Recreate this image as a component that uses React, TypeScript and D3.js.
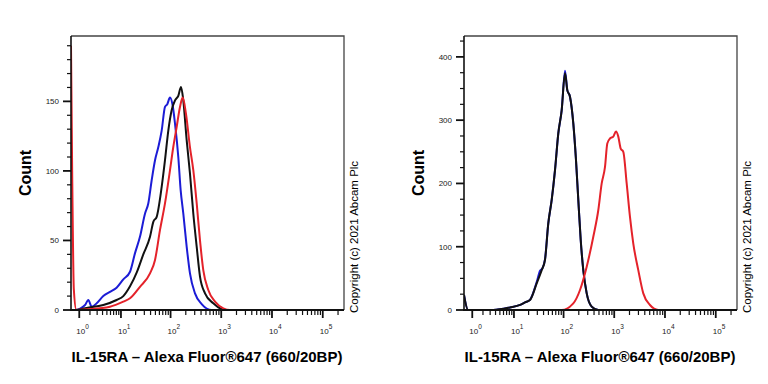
import React from "react";
import * as d3 from "d3";

// intensity (x) / count pairs
const leftBlue: [number, number][] = [
  [0.5, 0], [0.72, 0], [1.48, 3.6], [1.81, 7.2], [2.21, 2.4], [2.93, 4.8], [4.16, 10],
  [5.85, 13], [8.1, 16], [11.2, 22], [15.4, 27.5], [19.4, 40.7], [24.5, 52.6], [31, 69.4],
  [36, 76.6], [42.1, 93.3], [49.1, 107.7], [57, 117], [66.6, 129], [77.5, 146], [86.1, 148],
  [97.4, 152.7], [110, 147], [122.4, 134], [142.2, 110], [158.5, 86], [178.5, 69.4],
  [208.4, 45.4], [242, 26.3], [304, 12], [412, 4.3], [649, 0], [262144, 0],
];
const leftBlack: [number, number][] = [
  [0.5, 0], [0.72, 0], [1.64, 1.5], [4.16, 3.6], [8.1, 7.2], [11.2, 10], [15.4, 17],
  [21.1, 27], [28.6, 40], [39, 52.6], [45.4, 63.4], [53, 67], [66.6, 88.5], [77.5, 107.7],
  [90.2, 129], [105, 143.6], [122.4, 150.7], [142.2, 154], [161, 160.3], [178.5, 150.7],
  [208.4, 122], [242, 98], [281.4, 69.4], [328.6, 45.4], [381.4, 24], [479, 12], [698, 4.8],
  [1186, 0], [262144, 0],
];
const leftRed: [number, number][] = [
  [0.5, 190], [0.56, 100], [0.65, 15], [0.8, 0], [1.64, 0.5], [5.85, 2.4], [11.2, 6],
  [15.4, 8.4], [24.5, 16.7], [39, 26.3], [49.1, 36], [61.6, 57.4], [77.5, 76.6], [97.4, 100.5],
  [113, 117], [132, 131.6], [153.5, 146], [173.8, 152.7], [201.8, 141], [242, 117],
  [281.4, 100.5], [328.6, 76.6], [381.4, 50], [443, 28.7], [556, 14.4], [754, 6], [1099, 1.2],
  [1489, 0], [262144, 0],
];

const rightBlue: [number, number][] = [
  [0.5, 23.7], [0.72, 0], [3.55, 0], [8.26, 4], [13.4, 8], [16.9, 12], [21.3, 16], [29.1, 44],
  [34, 62], [38, 66], [42.7, 80], [49.7, 137], [58.1, 174], [67.6, 221], [78.6, 279],
  [91.8, 316], [106.8, 378], [118.5, 347.5], [134, 337], [155.8, 295], [176.1, 237],
  [195.6, 174], [218.3, 110.6], [245.4, 63], [286.6, 26.3], [359.6, 5.3], [485.7, 0], [262144, 0],
];
const rightBlack: [number, number][] = [
  [0.5, 23.7], [0.72, 0], [3.55, 0], [8.26, 4], [13.4, 8], [16.9, 12], [21.3, 15.8], [29.1, 42],
  [36.7, 63], [42.7, 79], [49.7, 137], [58.1, 174], [67.6, 221], [78.6, 279], [91.8, 316],
  [106.8, 374], [118.5, 347.5], [134, 337], [155.8, 295], [176.1, 237], [195.6, 174],
  [218.3, 110.6], [245.4, 63], [286.6, 26.3], [359.6, 5.3], [485.7, 0], [262144, 0],
];
const rightRed: [number, number][] = [
  [0.5, 0], [91.8, 0], [155.8, 10.5], [211.4, 31.6], [286.6, 68.4], [386.8, 115.8],
  [485.7, 158], [566.4, 200], [658, 226], [730, 263], [825, 271], [959, 274], [1084, 282],
  [1203, 274], [1342, 255], [1509, 250], [1760, 200], [2044, 147], [2375, 105], [2979, 63],
  [3739, 26.3], [5063, 7.9], [7385, 0], [262144, 0],
];

const decades = [1, 10, 100, 1000, 10000, 100000];
const decadeExp = ["0", "1", "2", "3", "4", "5"];
const xTitle = "IL-15RA – Alexa Fluor®647 (660/20BP)";
const copyright = "Copyright (c) 2021 Abcam Plc";

const FONT = "Arial, 'Liberation Sans', sans-serif";
const TOP = 36;
const BOTTOM = 310;
const PW = 273;

type PanelProps = {
  x0: number;
  yMax: number;
  yMajor: number;
  yMinor: number;
  series: { data: [number, number][]; color: string }[];
};

const Panel = ({ x0, yMax, yMajor, yMinor, series }: PanelProps) => {
  const x = d3.scaleSymlog().constant(0.6).domain([0.5, 262144]).range([x0, x0 + PW]);
  const y = d3.scaleLinear().domain([0, yMax]).range([BOTTOM, TOP]);
  const line = d3
    .line<[number, number]>()
    .x((d) => x(d[0]))
    .y((d) => y(d[1]))
    .curve(d3.curveMonotoneX);

  const minorX: number[] = [];
  decades.forEach((d) => {
    for (let k = 2; k <= 9; k++) if (k * d <= 262144) minorX.push(k * d);
  });
  const yTicks = d3.range(0, yMax, yMinor);

  return (
    <g>
      <clipPath id={`clip${x0}`}>
        <rect x={x0} y={TOP - 2} width={PW} height={BOTTOM - TOP + 2} />
      </clipPath>
      {/* frame */}
      <path
        d={`M${x0},${TOP}H${x0 + PW}V${BOTTOM}`}
        fill="none"
        stroke="#444"
        strokeWidth={1.3}
      />
      <g clipPath={`url(#clip${x0})`}>
        {series.map((s, i) => (
          <path key={i} d={line(s.data) ?? ""} fill="none" stroke={s.color} strokeWidth={2} />
        ))}
      </g>
      {/* y axis */}
      <line x1={x0} x2={x0} y1={TOP} y2={BOTTOM + 1} stroke="#111" strokeWidth={1.6} />
      {yTicks.map((t) => {
        const major = t % yMajor === 0;
        return (
          <g key={t}>
            <line
              x1={x0 - (major ? 8 : 4)}
              x2={x0}
              y1={y(t)}
              y2={y(t)}
              stroke="#111"
              strokeWidth={major ? 1.8 : 1.2}
            />
            {major && (
              <text
                x={x0 - 12}
                y={y(t)}
                dy="0.35em"
                textAnchor="end"
                fontSize={8}
                fontFamily={FONT}
                fill="#222"
              >
                {t}
              </text>
            )}
          </g>
        );
      })}
      {/* x axis */}
      <line x1={x0 - 1} x2={x0 + PW} y1={BOTTOM} y2={BOTTOM} stroke="#111" strokeWidth={1.8} />
      {minorX.map((v) => (
        <line key={v} x1={x(v)} x2={x(v)} y1={BOTTOM} y2={BOTTOM + 5} stroke="#111" strokeWidth={1.2} />
      ))}
      {decades.map((v, i) => (
        <g key={v}>
          <line x1={x(v)} x2={x(v)} y1={BOTTOM} y2={BOTTOM + 8} stroke="#111" strokeWidth={1.8} />
          <text x={x(v) - 3} y={334} fontSize={8} fontFamily={FONT} fill="#222">
            10
            <tspan dy={-5} fontSize={6.5}>
              {decadeExp[i]}
            </tspan>
          </text>
        </g>
      ))}
      <text
        transform={`translate(${x0 - 40},173) rotate(-90)`}
        textAnchor="middle"
        fontSize={16}
        fontWeight="bold"
        fontFamily={FONT}
      >
        Count
      </text>
      <text
        x={x0 + 136}
        y={362}
        textAnchor="middle"
        fontSize={15}
        fontWeight="bold"
        fontFamily={FONT}
      >
        {xTitle}
      </text>
      <text
        transform={`translate(${x0 + PW + 14},313) rotate(-90)`}
        fontSize={11.5}
        fontFamily={FONT}
      >
        {copyright}
      </text>
    </g>
  );
};

export default function App() {
  return (
    <svg
      width={768}
      height={384}
      style={{ position: "absolute", left: 0, top: 0, background: "#fff" }}
    >
      <Panel
        x0={71}
        yMax={197}
        yMajor={50}
        yMinor={10}
        series={[
          { data: leftBlue, color: "#1c1cd6" },
          { data: leftBlack, color: "#111" },
          { data: leftRed, color: "#e4222a" },
        ]}
      />
      <Panel
        x0={464}
        yMax={433}
        yMajor={100}
        yMinor={25}
        series={[
          { data: rightBlue, color: "#1c1cd6" },
          { data: rightBlack, color: "#111" },
          { data: rightRed, color: "#e4222a" },
        ]}
      />
    </svg>
  );
}
